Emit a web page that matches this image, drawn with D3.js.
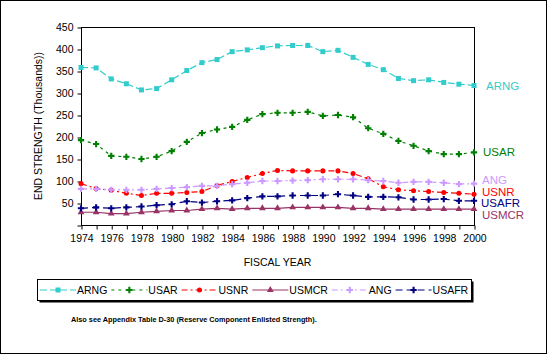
<!DOCTYPE html>
<html lang="en">
<head>
	<meta charset="utf-8">
	<title>End Strength by Fiscal Year</title>
	<script src="https://d3js.org/d3.v7.min.js"></script>
	<style>
		body { margin: 0; background: #fff; }
		text { font-family: "Liberation Sans", Arial, sans-serif; }
	</style>
</head>
<body>
	<div id="chart"></div>
	<script>
		// fiscal years on the x axis
		let years = d3.range(1974, 2001);
		let yTicks = [0, 50, 100, 150, 200, 250, 300, 350, 400, 450];

		// end strength in thousands
		let arng  = [358, 357, 332, 321, 307, 310, 330, 351, 369, 376, 394, 398, 403, 407, 408, 408, 394, 397, 381, 365, 353, 333, 328, 330, 324, 320, 317];
		let usar  = [193, 184, 157, 155, 150, 155, 168, 189, 209, 217, 223, 239, 252, 255, 255, 257, 248, 250, 245, 220, 207, 191, 180, 168, 161, 161, 165];
		let usnr  = [94, 83, 79, 72, 67, 72, 72, 74, 76, 90, 99, 108, 117, 124, 123, 123, 123, 123, 117, 105, 87, 80, 78, 76, 74, 72, 70];
		let usmcr = [29, 29, 26, 26, 29, 31, 33, 33, 36, 38, 36, 38, 38, 38, 40, 40, 40, 40, 38, 38, 36, 36, 36, 36, 36, 36, 36];
		let ang   = [82, 82, 80, 80, 80, 82, 84, 86, 89, 89, 93, 96, 100, 100, 101, 102, 104, 104, 104, 102, 100, 96, 98, 98, 96, 93, 94];
		let usafr = [38, 40, 38, 40, 42, 45, 47, 54, 51, 54, 56, 61, 65, 65, 67, 67, 67, 70, 67, 64, 64, 63, 58, 58, 59, 55, 55];

		let series = [
			{ name: "ARNG",  values: arng,  color: "#33cccc", dash: "7,3",     marker: "square",   labelDy: 0,  labelDx: 12 },
			{ name: "USAR",  values: usar,  color: "#008000", dash: "3,4",     marker: "cross",    labelDy: 0,  labelDx: 9 },
			{ name: "USNR",  values: usnr,  color: "#ff0000", dash: "6,3,2,3", marker: "circle",   labelDy: -2, labelDx: 8 },
			{ name: "USMCR", values: usmcr, color: "#993366", dash: null,      marker: "triangle", labelDy: 6,  labelDx: 8 },
			{ name: "ANG",   values: ang,   color: "#cc99ff", dash: "6,3,2,3", marker: "cross",    labelDy: -4, labelDx: 8 },
			{ name: "USAFR", values: usafr, color: "#000080", dash: "7,4",     marker: "cross",    labelDy: 2,  labelDx: 7 }
		];

		let width = 547, height = 354;
		let margin = { left: 81, top: 27, right: 73, bottom: 129 };

		let svg = d3.select("#chart").append("svg")
			.attr("width", width)
			.attr("height", height);

		// outer frame
		svg.append("rect")
			.attr("x", 0.5).attr("y", 0.5)
			.attr("width", width - 1).attr("height", height - 1)
			.attr("fill", "#fff").attr("stroke", "#000");

		let x = d3.scaleLinear().domain([1974, 2000]).range([margin.left, width - margin.right]);
		let y = d3.scaleLinear().domain([0, 450]).range([height - margin.bottom, margin.top]);

		// plot area box
		svg.append("rect")
			.attr("x", x(1974) + 0.5).attr("y", y(450) + 0.5)
			.attr("width", x(2000) - x(1974)).attr("height", y(0) - y(450))
			.attr("fill", "none").attr("stroke", "#000");

		// axes
		let yAxis = d3.axisLeft(y).tickValues(yTicks).tickSize(4).tickPadding(4)
			.tickFormat(d => d === 0 ? "" : d);
		svg.append("g")
			.attr("transform", "translate(" + (x(1974) + 0.5) + ",0.5)")
			.call(yAxis)
			.call(g => g.select(".domain").remove())
			.selectAll("text").attr("font-size", 10.5).attr("font-family", "Liberation Sans, Arial, sans-serif");

		let xAxis = d3.axisBottom(x).tickValues(years).tickSize(4).tickPadding(5)
			.tickFormat(d => d % 2 === 0 ? d : "");
		svg.append("g")
			.attr("transform", "translate(0.5," + (y(0) + 0.5) + ")")
			.call(xAxis)
			.call(g => g.select(".domain").remove())
			.selectAll("text").attr("font-size", 10.5).attr("font-family", "Liberation Sans, Arial, sans-serif");

		svg.append("text")
			.attr("x", (x(1974) + x(2000)) / 2).attr("y", 266)
			.attr("text-anchor", "middle").attr("font-size", 10.5)
			.text("FISCAL YEAR");

		svg.append("text")
			.attr("transform", "translate(42," + (y(0) + y(450)) / 2 + ") rotate(-90)")
			.attr("text-anchor", "middle").attr("font-size", 10.5)
			.text("END STRENGTH (Thousands))");

		// draw a marker of the given kind centred on 0,0
		function drawMarker(g, kind, color) {
			if (kind === "square") {
				g.append("rect").attr("x", -2.5).attr("y", -2.5).attr("width", 5).attr("height", 5).attr("fill", color);
			} else if (kind === "triangle") {
				g.append("path").attr("d", d3.symbol(d3.symbolTriangle, 20)()).attr("fill", color);
			} else if (kind === "circle") {
				g.append("path").attr("d", d3.symbol(d3.symbolCircle, 20)()).attr("fill", color);
			} else {
				g.append("path").attr("d", d3.symbol(d3.symbolCross, 22)()).attr("fill", color);
			}
		}

		let line = d3.line()
			.x((d, i) => x(years[i]))
			.y(d => y(d));

		series.forEach(function(s) {
			svg.append("path")
				.datum(s.values)
				.attr("fill", "none")
				.attr("stroke", s.color)
				.attr("stroke-width", 1.2)
				.attr("stroke-dasharray", s.dash)
				.attr("d", line);

			svg.append("g").selectAll("g")
				.data(s.values)
				.enter()
				.append("g")
				.attr("transform", (d, i) => "translate(" + x(years[i]) + "," + y(d) + ")")
				.each(function() { drawMarker(d3.select(this), s.marker, s.color); });

			let last = s.values[s.values.length - 1];
			svg.append("text")
				.attr("x", x(2000) + s.labelDx)
				.attr("y", y(last) + s.labelDy)
				.attr("dy", "0.35em")
				.attr("font-size", 11.5)
				.attr("fill", s.color)
				.text(s.name);
		});

		// legend with drop shadow
		let legend = svg.append("g");
		legend.append("rect")
			.attr("x", 39.5).attr("y", 281.5).attr("width", 434).attr("height", 21)
			.attr("fill", "#000");
		legend.append("rect")
			.attr("x", 37.5).attr("y", 279.5).attr("width", 434).attr("height", 21)
			.attr("fill", "#fff").attr("stroke", "#000");

		let lx = 40;
		series.forEach(function(s) {
			let item = legend.append("g");
			item.append("line")
				.attr("x1", lx).attr("x2", lx + 36)
				.attr("y1", 290).attr("y2", 290)
				.attr("stroke", s.color).attr("stroke-width", 1.2)
				.attr("stroke-dasharray", s.dash);
			let m = item.append("g").attr("transform", "translate(" + (lx + 18) + ",290)");
			drawMarker(m, s.marker, s.color);
			let t = item.append("text")
				.attr("x", lx + 37).attr("y", 290).attr("dy", "0.35em")
				.attr("font-size", 10.5)
				.text(s.name);
			lx += 37 + t.node().getComputedTextLength() + 4;
		});

		svg.append("text")
			.attr("x", 71).attr("y", 319).attr("dy", "0.35em")
			.attr("font-size", 7.3).attr("font-weight", "bold")
			.text("Also see Appendix Table D-30 (Reserve Component Enlisted Strength).");
	</script>
</body>
</html>
